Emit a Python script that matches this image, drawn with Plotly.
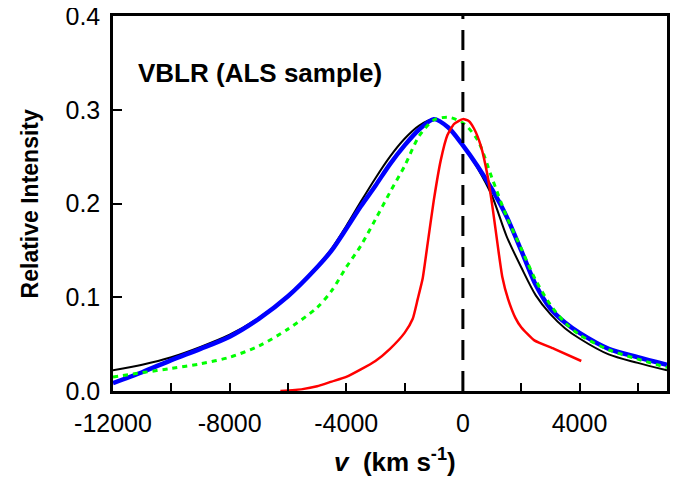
import plotly.graph_objects as go

# ---- data ----
v_grid = [-12000, -11000, -10000, -9000, -8000, -7000, -6000, -5000, -4500, -4000,
          -3500, -3000, -2500, -2000, -1500, -1000, -500, 0, 500, 1000, 1500, 2000,
          2500, 3000, 3500, 4000, 5000, 6000, 7000]

black_vals = [0.022, 0.028, 0.036, 0.047, 0.060, 0.078, 0.102, 0.133, 0.152, 0.176,
              0.202, 0.227, 0.250, 0.269, 0.283, 0.290, 0.281, 0.262, 0.238, 0.208,
              0.165, 0.132, 0.102, 0.082, 0.067, 0.056, 0.039, 0.030, 0.022]

blue_vals = [0.0085, 0.020, 0.033, 0.045, 0.058, 0.077, 0.101, 0.132, 0.150, 0.173,
             0.197, 0.219, 0.242, 0.262, 0.279, 0.290, 0.281, 0.262, 0.240, 0.215,
             0.186, 0.150, 0.113, 0.088, 0.073, 0.062, 0.045, 0.036, 0.028]

green_vals = [0.015, 0.0196, 0.024, 0.029, 0.036, 0.048, 0.066, 0.089, 0.107, 0.132,
              0.155, 0.183, 0.212, 0.240, 0.272, 0.289, 0.292, 0.286, 0.268, 0.227,
              0.186, 0.152, 0.118, 0.092, 0.073, 0.060, 0.044, 0.034, 0.025]

red_v = [-6260, -5500, -5000, -4500, -4000, -3500, -3000, -2500, -2000, -1720,
         -1550, -1380, -1210, -1000, -760, -530, -300, 0, 200, 380, 620, 850,
         1030, 1200, 1350, 1550, 1800, 2000, 2450, 3130, 4060]
red_vals = [0.0, 0.002, 0.005, 0.010, 0.015, 0.023, 0.032, 0.045, 0.062, 0.077,
            0.098, 0.120, 0.157, 0.203, 0.246, 0.273, 0.285, 0.290, 0.288, 0.280,
            0.261, 0.229, 0.193, 0.154, 0.122, 0.098, 0.078, 0.068, 0.054, 0.045, 0.032]

zero_line_x = [0, 0]
zero_line_y = [0, 0.4]

x_ticks = [-12000, -8000, -4000, 0, 4000]
x_tick_labels = ["-12000", "-8000", "-4000", "0", "4000"]
y_ticks = [0.0, 0.1, 0.2, 0.3, 0.4]
y_tick_labels = ["0.0", "0.1", "0.2", "0.3", "0.4"]

FONT = "Liberation Sans, Arial, Helvetica, sans-serif"

fig = go.Figure()
fig.add_trace(go.Scatter(x=v_grid, y=black_vals, mode="lines",
                         line=dict(color="black", width=2, shape="spline", smoothing=0.8)))
fig.add_trace(go.Scatter(x=v_grid, y=blue_vals, mode="lines",
                         line=dict(color="#0000ff", width=4.5, shape="spline", smoothing=0.8)))
fig.add_trace(go.Scatter(x=v_grid, y=green_vals, mode="lines",
                         line=dict(color="#00ff00", width=3, dash="5px,5px",
                                   shape="spline", smoothing=0.8)))
fig.add_trace(go.Scatter(x=red_v, y=red_vals, mode="lines",
                         line=dict(color="#ff0000", width=2.5, shape="spline", smoothing=0.5)))
fig.add_trace(go.Scatter(x=zero_line_x, y=zero_line_y, mode="lines",
                         line=dict(color="black", width=3, dash="20px,11px")))

fig.add_annotation(x=-11200, y=0.339, xref="x", yref="y", xanchor="left", yanchor="middle",
                   text="<b>VBLR (ALS sample)</b>", showarrow=False,
                   font=dict(family=FONT, size=26, color="black"))

# axis titles
fig.add_annotation(x=-0.15, y=0.5, xref="paper", yref="paper", xanchor="center", yanchor="middle",
                   text="<b>Relative Intensity</b>", textangle=-90, showarrow=False,
                   font=dict(family=FONT, size=23, color="black"))
fig.add_annotation(x=0.509, y=-0.184, xref="paper", yref="paper", xanchor="center", yanchor="middle",
                   text="<b><i>v</i>&nbsp;&nbsp;(km s<sup>-1</sup>)</b>", showarrow=False,
                   font=dict(family=FONT, size=26, color="black"))

# the page body adds an 8px offset; margins compensate so the plot box matches the reference
fig.update_layout(
    width=678, height=480,
    margin=dict(l=105, r=19, t=8, b=97, autoexpand=False),
    paper_bgcolor="white", plot_bgcolor="white",
    showlegend=False,
    font=dict(family=FONT, color="black"),
)
fig.update_xaxes(
    range=[-12000, 7000], showgrid=False, zeroline=False, automargin=False,
    showline=True, linecolor="black", linewidth=2.5, mirror=True,
    ticks="inside", ticklen=8, tickwidth=2, tickcolor="black",
    tickvals=x_ticks, ticktext=x_tick_labels,
    tickfont=dict(family=FONT, size=25), ticklabelstandoff=8, ticklabeloverflow="allow",
    minor=dict(dtick=2000, tick0=0, ticks="inside", ticklen=8, tickwidth=2, tickcolor="black"),
)
fig.update_yaxes(
    range=[0, 0.4], showgrid=False, zeroline=False, automargin=False,
    showline=True, linecolor="black", linewidth=2.5, mirror=True,
    ticks="inside", ticklen=9, tickwidth=2, tickcolor="black",
    tickvals=y_ticks, ticktext=y_tick_labels,
    tickfont=dict(family=FONT, size=25), ticklabelstandoff=5, ticklabeloverflow="allow",
)

fig.write_html("out.html")
